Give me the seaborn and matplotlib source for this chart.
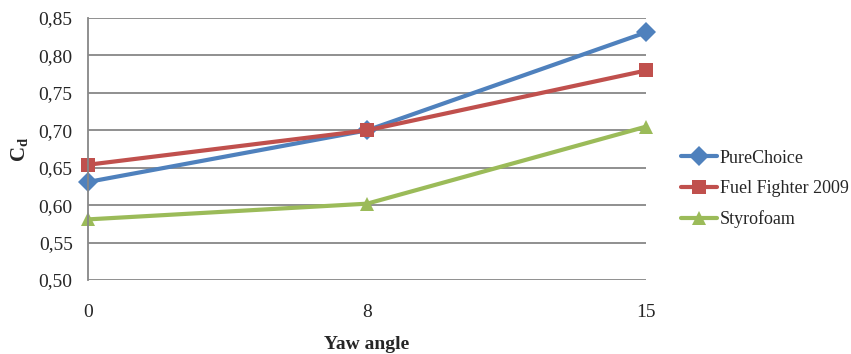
import pandas as pd
import seaborn as sns
import matplotlib.pyplot as plt

# data
yaw = ['0', '8', '15']
pure_choice = [0.631, 0.700, 0.831]
fuel_fighter = [0.654, 0.700, 0.780]
styrofoam = [0.581, 0.602, 0.705]
series = ['PureChoice', 'Fuel Fighter 2009', 'Styrofoam']
yticks = [0.50, 0.55, 0.60, 0.65, 0.70, 0.75, 0.80, 0.85]

df = pd.DataFrame({
    'yaw': yaw * 3,
    'cd': pure_choice + fuel_fighter + styrofoam,
    'series': [s for s in series for _ in yaw],
})

sns.set_style('white')
plt.rcParams['font.family'] = ['Liberation Serif', 'DejaVu Serif']
plt.rcParams['mathtext.fontset'] = 'custom'
plt.rcParams['mathtext.rm'] = 'Liberation Serif'
plt.rcParams['mathtext.bf'] = 'Liberation Serif:bold'

colors = {'PureChoice': '#4F81BD', 'Fuel Fighter 2009': '#C0504D', 'Styrofoam': '#9BBB59'}
markers = {'PureChoice': 'D', 'Fuel Fighter 2009': 's', 'Styrofoam': '^'}

fig = plt.figure(figsize=(8.51, 3.54), dpi=100)
ax = fig.add_axes([0.1034, 0.209, 0.656, 0.74])

sns.lineplot(data=df, x='yaw', y='cd', hue='series', style='series',
             palette=colors, markers=markers, dashes=False, linewidth=3,
             markersize=10, markeredgewidth=0, ax=ax, sort=False)
for line in ax.lines:
    line.set_clip_on(False)

ax.set_xlim(0, 2)
ax.set_ylim(0.50, 0.85)
ax.set_yticks(yticks)
ax.set_yticklabels([('%.2f' % v).replace('.', ',') for v in yticks])
ax.yaxis.grid(True, color='#878787', linewidth=1.3)
ax.set_axisbelow(True)
for s in ['top', 'right', 'bottom']:
    ax.spines[s].set_visible(False)
ax.spines['left'].set_color('#878787')
ax.spines['left'].set_linewidth(1.3)
ax.tick_params(axis='x', length=0, pad=17, labelsize=14)
ax.tick_params(axis='y', length=0, pad=11, labelsize=14)

ax.set_xlabel('Yaw angle', fontsize=14, fontweight='bold', labelpad=11)
ax.set_ylabel(r'$\mathbf{C_d}$', fontsize=15, labelpad=6)

leg = ax.legend(loc='center left', bbox_to_anchor=(681 / 851, 1 - 189 / 354),
                bbox_transform=fig.transFigure, frameon=False, borderaxespad=0,
                borderpad=0, fontsize=13, handlelength=2.0, handletextpad=0.15,
                labelspacing=0.75)
for line in leg.get_lines():
    line.set_linewidth(3)
    line.set_markersize(10)

fig.savefig('out.png', dpi=100)
